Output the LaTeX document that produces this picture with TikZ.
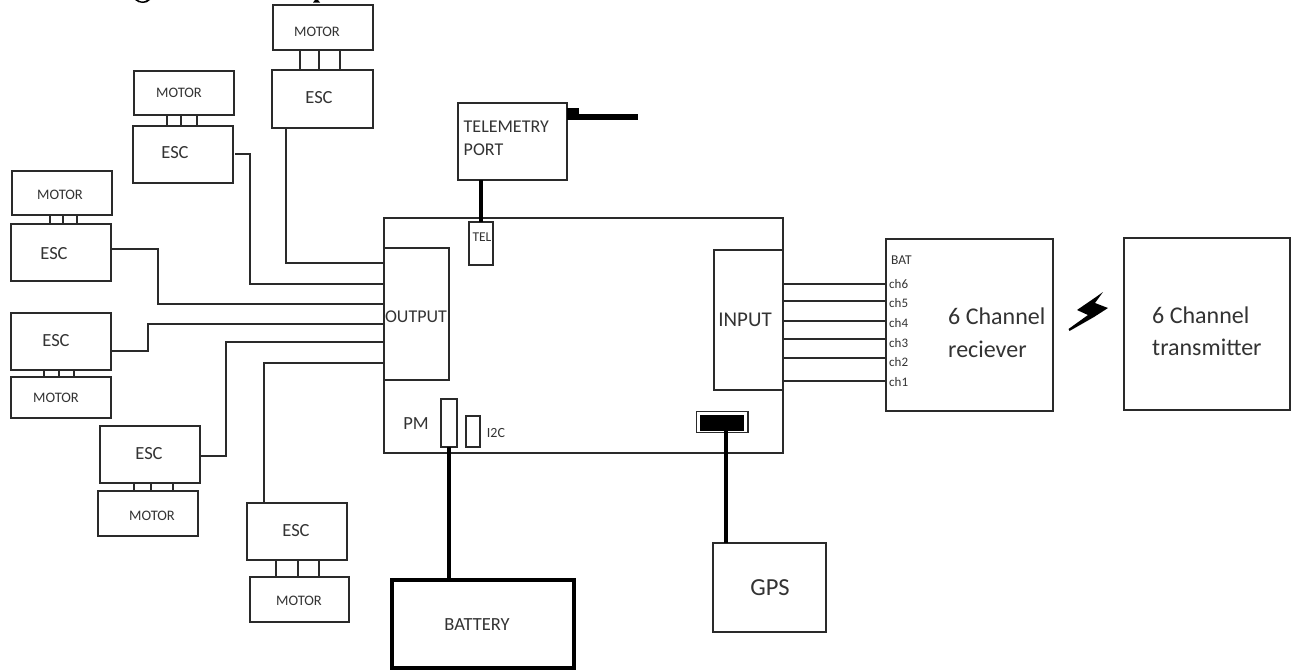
\documentclass[tikz,border=0pt]{standalone}
\usepackage{fontspec}
\setmainfont{Carlito}
\definecolor{ink}{HTML}{2A2A2A}
\definecolor{txt}{HTML}{333333}
\tikzset{
  x=1pt,y=-1pt,
  wire/.style={draw=ink,line width=1.3pt,line join=miter},
  thick wire/.style={draw=black,line width=4pt},
  partbox/.style={draw=ink,line width=1.3pt,fill=white,outer sep=0pt},
  lbl/.style={text=txt,inner sep=0pt,font=\fontsize{#1}{#1}\selectfont},
  llbl/.style={text=txt,inner sep=0pt,anchor=west,font=\fontsize{#1}{#1}\selectfont},
}
% \boxn{name}{x1}{y1}{x2}{y2}: a named rectangle given by corners
\newcommand{\boxn}[6][partbox]{\node[#1,inner sep=0pt,minimum width=#5pt-#3pt,minimum height=#6pt-#4pt,anchor=north west] (#2) at (#3,#4) {};}
\begin{document}
\begin{tikzpicture}
\useasboundingbox (0,0) rectangle (1291,670);
\fill[white] (0,0) rectangle (1291,670);
% remains of a cut-off line at the top edge
\fill[black] (135,0) .. controls (139,4) and (147,4) .. (150,0) -- (147,0) .. controls (144,2) and (141,2) .. (138,0) -- cycle;
\fill[black] (313,2.5) -- (315,0) -- (318,0) -- (320,2.5) -- cycle;

% main board
\boxn{board}{384}{218}{783}{453}
\boxn{output}{384}{248}{449}{380}
\boxn{input}{714}{250}{783}{390}
\node[lbl=18] (outputt) at (416,317) {OUTPUT};
\node[lbl=21] (inputt) at (745,320) {INPUT};
\node[lbl=18.5] (pmt) at (416,424) {PM};
\boxn{pm}{441}{399}{457}{447}
\boxn{itc}{466}{416}{480}{447}
\node[lbl=14] (itct) at (496,433) {I2C};
\boxn{tel}{469}{222}{493}{265}
\node[lbl=13.5] (telt) at (482,237) {TEL};

% telemetry port
\boxn{port}{458}{103}{567}{180}
\node[llbl=18] (portt1) at (463.5,127) {TELEMETRY};
\node[llbl=18] (portt2) at (463.5,149.5) {PORT};
\fill[black] (567,108) rectangle (579,120);
\fill[black] (567,113.5) rectangle (638,120);
\draw[thick wire] (port.south -| tel.north) -- (tel.north);

% motors and ESCs
\boxn{m1}{273}{5}{373}{50}  \boxn{e1}{272}{70}{373}{128}
\boxn{m2}{134}{71}{234}{115} \boxn{e2}{133}{126}{233}{183}
\boxn{m3}{12}{171}{112}{215} \boxn{e3}{11}{224}{111}{281}
\boxn{e4}{11}{313}{111}{370} \boxn{m4}{11}{377}{111}{418}
\boxn{e5}{100}{426}{200}{483} \boxn{m5}{98}{491}{198}{536}
\boxn{e6}{247}{503}{347}{560} \boxn{m6}{250}{577}{349}{622}
\foreach \n/\x/\y in {m1/317/32,m2/179/93,m3/60/195,m4/56/398,m5/152/516,m6/299/601}
  \node[lbl=14.5] (\n t) at (\x,\y) {MOTOR};
\foreach \n/\x/\y in {e1/319/98,e2/175/153,e3/54/254,e4/56/341,e5/149/454,e6/296/531}
  \node[lbl=18.5] (\n t) at (\x,\y) {ESC};
\foreach \x in {300,319,340} \draw[wire] (\x,50) -- (\x,70);
\foreach \x in {167,181,197} \draw[wire] (\x,115) -- (\x,126);
\foreach \x in {50,63,77} \draw[wire] (\x,215) -- (\x,224);
\foreach \x in {44,59,74} \draw[wire] (\x,370) -- (\x,377);
\foreach \x in {134,151,173} \draw[wire] (\x,483) -- (\x,491);
\foreach \x in {276,298,319} \draw[wire] (\x,560) -- (\x,577);

% ESC wires
\draw[wire] (286,128) -- (286,263) -- (384,263);
\draw[wire] (235,154) -- (250,154) -- (250,284) -- (384,284);
\draw[wire] (111,249) -- (158,249) -- (158,304) -- (384,304);
\draw[wire] (111,351) -- (148,351) -- (148,324) -- (384,324);
\draw[wire] (200,456) -- (226,456) -- (226,342) -- (384,342);
\draw[wire] (264,503) -- (264,363) -- (384,363);

% battery
\node[draw=black,line width=4pt,fill=white,outer sep=0pt,inner sep=0pt,minimum width=182pt,minimum height=88pt,anchor=north west] (bat) at (391.5,579.5) {};
\node[lbl=18.5] (batt) at (477,625) {BATTERY};
\draw[thick wire] (449,447) -- (449,579);

% GPS
\boxn{gps}{713}{543}{826}{632}
\node[lbl=24.5] (gpst) at (770,588) {GPS};
\boxn{gc}{696.5}{411.5}{748}{432.5}
\fill[black] (700,415) rectangle (744,431);
\draw[thick wire] (726,431) -- (726,543);

% receiver
\boxn{rx}{886}{239}{1053}{411}
\node[llbl=13.5] (batl) at (891,260) {BAT};
\foreach \n/\wy/\ty in {6/284/284,5/301/303,4/321/323,3/339/343,2/358/362,1/381/382}{
  \node[llbl=13] (ch\n) at (889,\ty) {ch\n};
  \draw[wire] (783,\wy) -- (886,\wy);
}
\node[llbl=24] (rxt1) at (948,316) {6 Channel};
\node[llbl=24] (rxt2) at (948,349) {reciever};

% lightning
\fill[black] (1103,292) -- (1095,303) -- (1108,308) -- (1094,317) -- (1069.5,331) -- (1068.5,329) -- (1088,315) -- (1077,310) -- (1096,297) -- cycle;

% transmitter
\boxn{tx}{1124}{238}{1290}{410}
\node[llbl=24] (txt1) at (1152,315) {6 Channel};
\node[llbl=24] (txt2) at (1152,347) {transmitter};
\end{tikzpicture}
\end{document}
